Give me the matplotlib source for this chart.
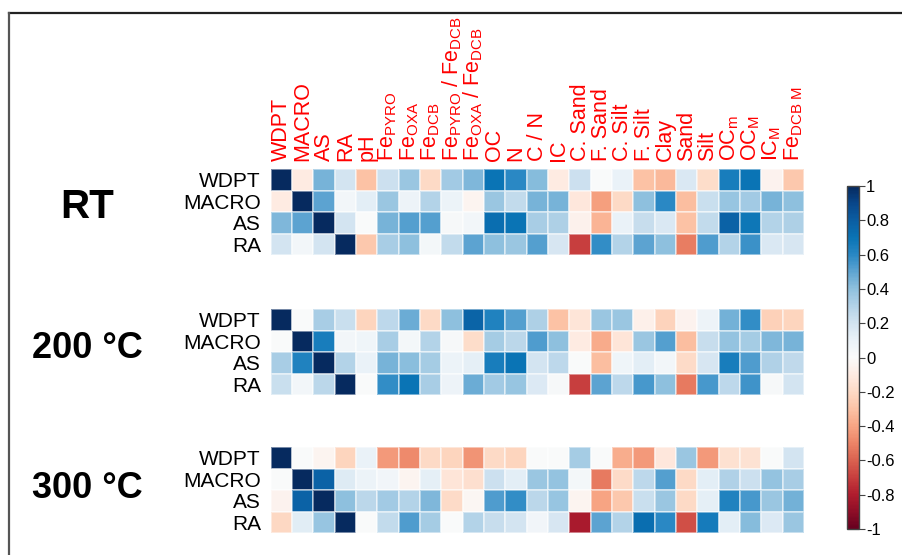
import numpy as np
import matplotlib
matplotlib.use("Agg")
import matplotlib.pyplot as plt
from matplotlib.colors import LinearSegmentedColormap
from matplotlib.lines import Line2D

plt.rcParams['font.family'] = ['Liberation Sans', 'DejaVu Sans']
plt.rcParams['mathtext.fontset'] = 'custom'
plt.rcParams['mathtext.rm'] = 'Liberation Sans'
plt.rcParams['mathtext.it'] = 'Liberation Sans:italic'

row_labels = ["WDPT", "MACRO", "AS", "RA"]
col_labels = [
    "WDPT", "MACRO", "AS", "RA", "pH",
    r"Fe$_{\mathrm{PYRO}}$", r"Fe$_{\mathrm{OXA}}$", r"Fe$_{\mathrm{DCB}}$",
    r"Fe$_{\mathrm{PYRO}}$ / Fe$_{\mathrm{DCB}}$", r"Fe$_{\mathrm{OXA}}$ / Fe$_{\mathrm{DCB}}$",
    "OC", "N", "C / N", "IC", "C. Sand", "F. Sand", "C. Silt", "F. Silt",
    "Clay", "Sand", "Silt", r"OC$_{\mathrm{m}}$", r"OC$_{\mathrm{M}}$",
    r"IC$_{\mathrm{M}}$", r"Fe$_{\mathrm{DCB\ M}}$",
]
block_labels = ["RT", "200 °C", "300 °C"]

corr_rt = [
    [1.0, -0.1, 0.45, 0.2, -0.3, 0.22, 0.37, -0.2, 0.35, 0.43, 0.7, 0.6, 0.42,
     -0.1, 0.22, 0.0, 0.1, -0.3, -0.33, 0.17, -0.18, 0.65, 0.7, -0.05, -0.28],
    [-0.1, 1.0, 0.5, 0.05, 0.13, 0.37, 0.08, 0.3, 0.09, -0.04, 0.37, 0.25, 0.45,
     0.45, -0.12, -0.42, -0.2, 0.4, 0.6, -0.32, 0.23, 0.38, 0.35, 0.45, 0.4],
    [0.43, 0.5, 1.0, 0.2, 0.0, 0.45, 0.52, 0.52, 0.03, 0.05, 0.72, 0.7, 0.33,
     0.32, -0.06, -0.35, 0.1, 0.24, 0.17, -0.3, 0.25, 0.78, 0.68, 0.3, 0.32],
    [0.2, 0.05, 0.2, 1.0, -0.28, 0.33, 0.4, 0.04, 0.25, 0.5, 0.4, 0.37, 0.52,
     0.18, -0.7, 0.58, 0.3, 0.5, 0.4, -0.52, 0.53, 0.3, 0.57, 0.17, 0.18],
]
corr_200 = [
    [1.0, 0.0, 0.33, 0.23, -0.22, 0.27, 0.47, -0.2, 0.4, 0.77, 0.63, 0.52, 0.32,
     -0.3, -0.14, 0.37, 0.37, -0.07, -0.23, -0.05, 0.08, 0.46, 0.58, -0.24, -0.22],
    [0.0, 1.0, 0.65, 0.05, 0.07, 0.33, 0.04, 0.3, 0.03, -0.18, 0.34, 0.28, 0.53,
     0.4, -0.1, -0.38, -0.14, 0.37, 0.52, -0.32, 0.24, 0.39, 0.34, 0.43, 0.45],
    [0.33, 0.63, 1.0, 0.3, 0.1, 0.45, 0.41, 0.34, 0.09, 0.12, 0.65, 0.7, 0.2,
     0.27, 0.0, -0.32, 0.07, 0.13, 0.05, -0.19, 0.18, 0.65, 0.53, 0.31, 0.26],
    [0.23, 0.05, 0.28, 1.0, 0.0, 0.58, 0.7, 0.33, 0.08, 0.47, 0.35, 0.38, 0.16,
     0.03, -0.7, 0.5, 0.27, 0.54, 0.4, -0.53, 0.54, 0.27, 0.56, 0.03, 0.2],
]
corr_300 = [
    [1.0, 0.0, -0.04, -0.22, 0.1, -0.43, -0.48, -0.2, -0.22, -0.45, -0.2, -0.22, 0.0,
     0.0, 0.34, 0.0, -0.37, -0.43, -0.12, 0.37, -0.43, -0.16, -0.15, 0.0, 0.2],
    [0.0, 1.0, 0.78, 0.15, 0.09, 0.06, -0.04, 0.12, -0.14, -0.17, 0.22, 0.13, 0.37,
     0.39, 0.04, -0.53, -0.19, 0.27, 0.52, -0.2, 0.13, 0.31, 0.22, 0.39, 0.33],
    [-0.05, 0.78, 1.0, 0.4, 0.28, 0.35, 0.3, 0.43, -0.19, -0.03, 0.53, 0.58, 0.28,
     0.38, -0.04, -0.4, -0.28, 0.23, 0.37, -0.2, 0.12, 0.63, 0.54, 0.37, 0.46],
    [-0.21, 0.14, 0.38, 1.0, 0.0, 0.25, 0.53, 0.34, 0.0, 0.3, 0.24, 0.2, 0.06,
     0.18, -0.82, 0.5, 0.3, 0.72, 0.6, -0.65, 0.66, 0.13, 0.42, 0.16, 0.37],
]

# colour ramp
cmap = LinearSegmentedColormap.from_list("corr", [
    "#67001F", "#8E0E27", "#B01D2E", "#C73F3E", "#DA6250", "#EC8467",
    "#F7A584", "#FCC3A6", "#FDDAC6", "#FEEBE2", "#FAFAFA",
    "#EAF2F8", "#D3E4F1", "#B4D3E8", "#90C1DF", "#5FA5D2",
    "#2A88C4", "#0A74B5", "#0B5EA2", "#08478B", "#062A5F",
])

W, H = 903, 555
fig = plt.figure(figsize=(W / 100, H / 100), dpi=100)

# frame lines (top and left only)
fig.add_artist(Line2D([9.5 / W, 1], [1 - 12.5 / H, 1 - 12.5 / H], color="#222222", lw=1.6))
fig.add_artist(Line2D([9.5 / W, 9.5 / W], [0, 1 - 12.5 / H], color="#555555", lw=1.6))

left = 270.7 / W
width = 533.3 / W
tops = [169, 309, 447]
height_px = 86
blocks = [corr_rt, corr_200, corr_300]
label_y = [207, 348, 488]
label_size = [29, 26, 26]

mesh = None
for i, data in enumerate(blocks):
    arr = np.array(data)
    ax = fig.add_axes([left, 1 - (tops[i] + height_px) / H, width, height_px / H])
    mesh = ax.pcolormesh(arr, cmap=cmap, vmin=-1, vmax=1,
                         edgecolors=(1, 1, 1, 0.45), linewidth=0.3)
    ax.set_xlim(0, arr.shape[1])
    ax.set_ylim(arr.shape[0], 0)
    ax.set_yticks(np.arange(len(row_labels)) + 0.5)
    ax.set_yticklabels(row_labels, fontsize=15)
    ax.tick_params(axis="y", length=0, pad=7)
    if i == 0:
        ax.xaxis.tick_top()
        ax.set_xticks(np.arange(len(col_labels)) + 0.5)
        ax.set_xticklabels(col_labels, rotation=90, color="red", fontsize=15.5)
        ax.tick_params(axis="x", length=0, pad=6)
    else:
        ax.set_xticks([])
    for s in ax.spines.values():
        s.set_visible(False)
    fig.text(87 / W, 1 - label_y[i] / H, block_labels[i], fontsize=label_size[i],
             fontweight="bold", ha="center", va="center")

cax = fig.add_axes([847 / W, 1 - 529 / H, 12 / W, (529 - 186) / H])
cb = fig.colorbar(mesh, cax=cax, ticks=np.round(np.arange(-1, 1.01, 0.2), 1))
cb.ax.set_yticklabels(["-1", "-0.8", "-0.6", "-0.4", "-0.2", "0",
                       "0.2", "0.4", "0.6", "0.8", "1"])
cb.ax.tick_params(labelsize=12, length=4, width=0.8, color="#444444", pad=1)
cb.outline.set_edgecolor("#444444")
cb.outline.set_linewidth(1.0)

fig.savefig("out.png", dpi=100)
